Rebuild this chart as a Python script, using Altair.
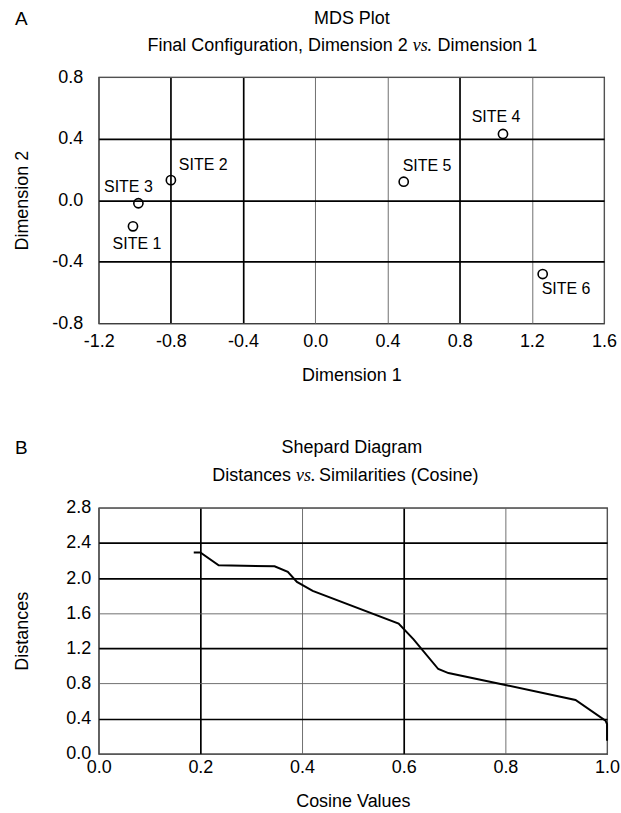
import altair as alt
import pandas as pd

# ---------------- data ----------------
sites = ["SITE 1", "SITE 2", "SITE 3", "SITE 4", "SITE 5", "SITE 6"]
dim1 = [-1.01, -0.80, -0.98, 1.04, 0.49, 1.26]
dim2 = [-0.17, 0.13, -0.02, 0.43, 0.12, -0.48]

cosine = [0.187, 0.200, 0.236, 0.346, 0.372, 0.390, 0.421, 0.590, 0.619,
          0.668, 0.688, 0.800, 0.938, 0.997, 1.000, 1.000]
distance = [2.29, 2.29, 2.145, 2.134, 2.07, 1.956, 1.854, 1.483, 1.305,
            0.965, 0.919, 0.783, 0.613, 0.378, 0.34, 0.15]

dim1_ticks = [-1.2, -0.8, -0.4, 0.0, 0.4, 0.8, 1.2, 1.6]
dim2_ticks = [-0.8, -0.4, 0.0, 0.4, 0.8]
cos_ticks = [0.0, 0.2, 0.4, 0.6, 0.8, 1.0]
dist_ticks = [0.0, 0.4, 0.8, 1.2, 1.6, 2.0, 2.4, 2.8]

mds = pd.DataFrame({"site": sites, "dim1": dim1, "dim2": dim2})
shep = pd.DataFrame({"order": list(range(len(cosine))), "cosine": cosine, "distance": distance})

FONT = "Liberation Sans"
SERIF = "Liberation Serif"
LABEL_FMT = "replace(format(datum.value, '.1f'), '\u2212', '-')"


def grid_style(thick_tenths):
    test = "indexof(%s, round(datum.value*10)) >= 0" % str(thick_tenths)
    return dict(
        gridColor={"condition": {"test": test, "value": "#000000"}, "value": "#606060"},
        gridWidth={"condition": {"test": test, "value": 1.7}, "value": 0.9},
    )


def make_axis(title, values, thick, label_pad, title_pad):
    return alt.Axis(
        title=title, values=values, labelExpr=LABEL_FMT, ticks=False, domain=False,
        labelPadding=label_pad, titlePadding=title_pad, labelFontSize=18,
        titleFontSize=18, titleFontWeight="normal", labelColor="black",
        titleColor="black", labelFont=FONT, titleFont=FONT, labelFlush=False,
        **grid_style(thick)
    )


def text_item(txt, x, y, align="left", size=18, font=FONT, style="normal"):
    return alt.Chart(alt.Data(values=[{"t": txt}])).mark_text(
        align=align, baseline="alphabetic", fontSize=size, font=font,
        fontStyle=style, color="black"
    ).encode(x=alt.value(x), y=alt.value(y), text="t:N")


def heading(letter, lx, title, sub1, sub2, cx, vx, gap2, y_title, y_sub):
    return [
        text_item(letter, lx, y_title + 1, size=19),
        text_item(title, cx, y_title, align="center"),
        text_item(sub1, vx - 5, y_sub, align="right"),
        text_item("vs.", vx, y_sub, font=SERIF, style="italic"),
        text_item(sub2, vx + gap2, y_sub),
    ]


# ---------------- panel A ----------------
base_a = alt.Chart(mds).encode(
    x=alt.X("dim1:Q", scale=alt.Scale(domain=[-1.2, 1.6], nice=False),
            axis=make_axis("Dimension 1", dim1_ticks, [-8, -4, 8], 9, 16)),
    y=alt.Y("dim2:Q", scale=alt.Scale(domain=[-0.8, 0.8], nice=False),
            axis=make_axis("Dimension 2", dim2_ticks, [4, 0, -4], 16, 20)),
)
points = base_a.mark_point(shape="circle", filled=False, size=85, strokeWidth=1.6,
                           color="black", opacity=1)

label_style = {
    "SITE 1": ("center", 4, 18),
    "SITE 2": ("left", 8, -15),
    "SITE 3": ("center", -10, -16),
    "SITE 4": ("center", -7, -17),
    "SITE 5": ("left", -1, -16),
    "SITE 6": ("left", -1, 15),
}
labels = []
for s in sites:
    al, dx, dy = label_style[s]
    labels.append(
        base_a.transform_filter(alt.datum.site == s).mark_text(
            align=al, baseline="middle", dx=dx, dy=dy, fontSize=16, font=FONT, color="black"
        ).encode(text="site:N")
    )

top = alt.layer(
    points, *labels,
    *heading("A", -84, "MDS Plot", "Final Configuration, Dimension 2",
             "Dimension 1", 254, 315, 25, -53, -26)
).properties(width=507, height=247)

# ---------------- panel B ----------------
line = alt.Chart(shep).mark_line(color="black", strokeWidth=2).encode(
    x=alt.X("cosine:Q", scale=alt.Scale(domain=[0, 1], nice=False),
            axis=make_axis("Cosine Values", cos_ticks, [2, 6], 5, 16)),
    y=alt.Y("distance:Q", scale=alt.Scale(domain=[0, 2.8], nice=False),
            axis=make_axis("Distances", dist_ticks, [24, 20, 12, 4], 8, 34)),
    order="order:Q",
)

bottom = alt.layer(
    line,
    *heading("B", -84, "Shepard Diagram", "Distances",
             "Similarities (Cosine)", 254, 198, 23, -55, -27)
).properties(width=510, height=247)

chart = alt.concat(top, bottom, columns=1, spacing=53).configure_view(
    stroke="black", strokeWidth=1.2
).properties(
    padding={"left": 13, "top": 8, "right": 0, "bottom": 0}, background="white"
)

chart.save("out.html", embed_options={"renderer": "svg", "actions": False})
